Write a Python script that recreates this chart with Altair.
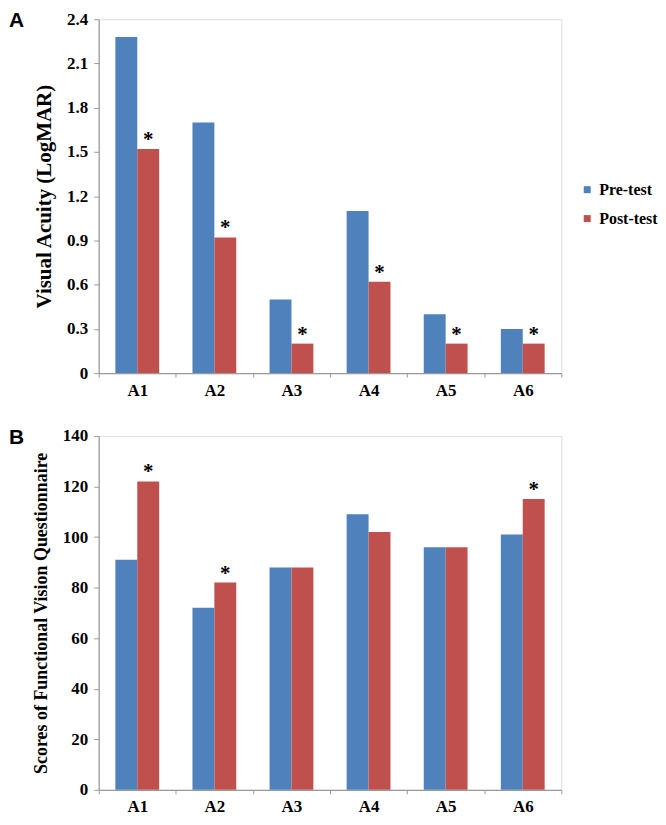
import altair as alt
import pandas as pd

patients = ["A1", "A2", "A3", "A4", "A5", "A6"]
groups = ["Pre-test", "Post-test"]
colors = ["#4F81BD", "#C0504D"]

va_pre = [2.28, 1.70, 0.50, 1.10, 0.40, 0.30]
va_post = [1.52, 0.92, 0.20, 0.62, 0.20, 0.20]
va_sig = [True, True, True, True, True, True]
va_ticks = [0, 0.3, 0.6, 0.9, 1.2, 1.5, 1.8, 2.1, 2.4]

fvq_pre = [91, 72, 88, 109, 96, 101]
fvq_post = [122, 82, 88, 102, 96, 115]
fvq_sig = [True, True, False, False, False, True]
fvq_ticks = [0, 20, 40, 60, 80, 100, 120, 140]

SERIF = "Liberation Serif"
W, H = 464, 355


def panel(pre, post, sig, ticks, ytitle, letter, title_size, fmt):
    rows = []
    for i, p in enumerate(patients):
        rows.append({"patient": p, "group": "Pre-test", "value": pre[i], "sig": False})
        rows.append({"patient": p, "group": "Post-test", "value": post[i], "sig": sig[i]})
    df = pd.DataFrame(rows)
    base = alt.Chart(df)
    x = alt.X(
        "patient:N", sort=patients, title=None,
        scale=alt.Scale(paddingInner=0, paddingOuter=0),
        axis=alt.Axis(
            tickBand="extent", labelAngle=0, labelFont=SERIF, labelFontWeight="bold",
            labelFontSize=17, labelColor="black", labelPadding=5, domainColor="#9a9a9a",
            tickColor="#9a9a9a", tickSize=4, domainWidth=1.2,
        ),
    )
    xo = alt.XOffset("group:N", sort=groups,
                     scale=alt.Scale(domain=groups, paddingOuter=0.76, paddingInner=0))
    y = alt.Y(
        "value:Q", title=ytitle,
        scale=alt.Scale(domain=[ticks[0], ticks[-1]], nice=False),
        axis=alt.Axis(
            values=ticks, grid=False, format=fmt, labelFont=SERIF, labelFontWeight="bold",
            labelFontSize=17, labelColor="black", labelPadding=6, domainColor="#9a9a9a",
            tickColor="#9a9a9a", tickSize=5, domainWidth=1.2,
            titleFont=SERIF, titleFontWeight="bold", titleFontSize=title_size,
            titleColor="black", titlePadding=12,
        ),
    )
    color = alt.Color(
        "group:N", sort=groups, scale=alt.Scale(domain=groups, range=colors),
        legend=alt.Legend(
            title=None, orient="none", legendX=482, legendY=163, padding=0,
            symbolType="square", symbolSize=49, symbolStrokeWidth=0, labelFont=SERIF,
            labelFontWeight="bold", labelFontSize=16, labelColor="black", rowPadding=13,
            labelOffset=4,
        ),
    )
    bars = base.mark_bar().encode(x=x, xOffset=xo, y=y, color=color)
    stars = base.transform_filter("datum.sig").mark_text(
        text="*", font=SERIF, fontWeight="bold", fontSize=21, baseline="middle", dy=-9,
        color="black",
    ).encode(x=x, xOffset=xo, y=y)
    lab = alt.Chart(pd.DataFrame({"t": [letter]})).mark_text(
        font="Liberation Sans", fontWeight="bold", fontSize=21, align="left",
        baseline="alphabetic", color="black",
    ).encode(x=alt.value(-90), y=alt.value(8), text="t:N")
    return alt.layer(bars, stars, lab).properties(width=W, height=H)


pa = panel(va_pre, va_post, va_sig, va_ticks, "Visual Acuity (LogMAR)", "A", 21, ".1~f")
pb = panel(fvq_pre, fvq_post, fvq_sig, fvq_ticks, "Scores of Functional Vision Questionnaire",
           "B", 18, "d")

chart = alt.vconcat(pa, pb, spacing=27).properties(
    padding={"left": 0, "top": 0, "right": 0, "bottom": -2}
).configure_view(stroke=None).configure(background="white")

chart.save("out.html", embed_options={"renderer": "svg", "actions": False})
